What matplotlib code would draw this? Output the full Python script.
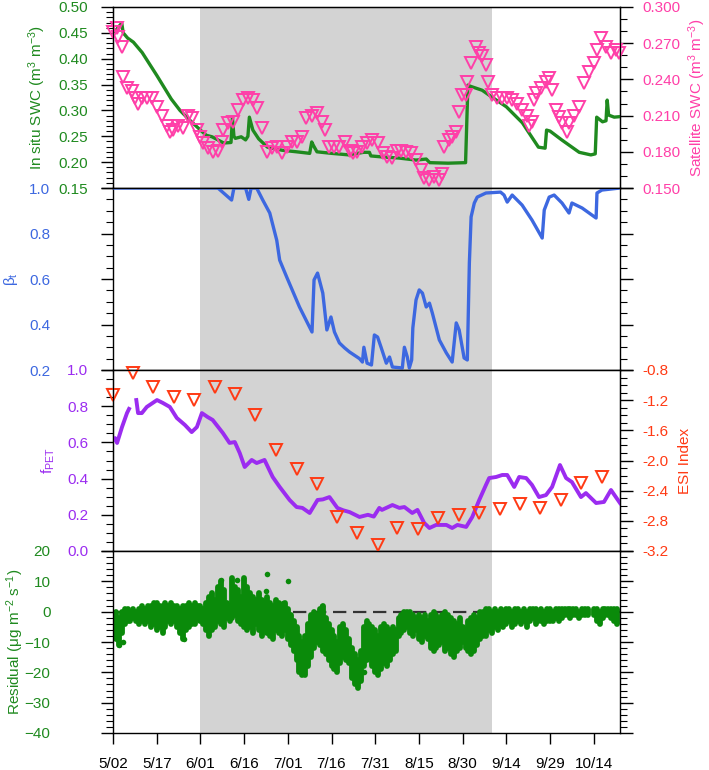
import numpy as np
import matplotlib
matplotlib.use("Agg")
import matplotlib.pyplot as plt
from matplotlib.ticker import MultipleLocator

plt.rcParams['font.family'] = ['Liberation Sans', 'DejaVu Sans']
plt.rcParams['font.size'] = 11
plt.rcParams['mathtext.fontset'] = 'custom'
plt.rcParams['mathtext.rm'] = 'Liberation Sans'

# x axis: days since 5/02
date_ticks = [0, 15, 30, 45, 60, 75, 90, 105, 120, 135, 150, 165]
date_labels = ["5/02", "5/17", "6/01", "6/16", "7/01", "7/16",
               "7/31", "8/15", "8/30", "9/14", "9/29", "10/14"]
dry_start, dry_end = 30, 130

# in situ SWC (day, m3/m3)
swc_pts = [(0, 0.452), (1, 0.455), (3, 0.469), (3.5, 0.450), (5, 0.440), (7, 0.432),
           (10, 0.412), (15, 0.368), (20, 0.322), (23, 0.300), (26, 0.283), (30, 0.262),
           (32, 0.252), (34, 0.249), (38, 0.237), (40.5, 0.238), (41, 0.285), (41.5, 0.250),
           (42, 0.246), (44, 0.249), (45.5, 0.243), (46.3, 0.250), (46.8, 0.287), (48, 0.262),
           (50, 0.245), (53, 0.229), (58, 0.223), (63, 0.220), (67.5, 0.217), (68.2, 0.239),
           (68.8, 0.232), (70, 0.220), (75, 0.217), (81, 0.214), (86, 0.219), (88, 0.219),
           (88.5, 0.212), (92.5, 0.210), (98, 0.208), (104, 0.204), (107.5, 0.206),
           (108.7, 0.199), (115, 0.198), (121, 0.199), (121.8, 0.349), (122.5, 0.347),
           (126.7, 0.339), (130, 0.326), (135, 0.307), (140.5, 0.276), (146, 0.229),
           (148.3, 0.227), (148.8, 0.262), (150, 0.260), (154, 0.243), (160, 0.219),
           (164, 0.214), (165.5, 0.216), (166, 0.287), (168, 0.278), (169.2, 0.280),
           (169.6, 0.320), (170.1, 0.291), (172, 0.287), (174, 0.288)]

# satellite SWC (day, m3/m3)
sat_pts = [(0.0, 0.279), (1.4, 0.283), (1.7, 0.275), (3.1, 0.267), (3.4, 0.242), (4.8, 0.233),
           (6.5, 0.230), (7.5, 0.225), (8.6, 0.220), (9.9, 0.225), (11.6, 0.225), (13.4, 0.225),
           (15.1, 0.217), (16.8, 0.210), (18.5, 0.201), (19.5, 0.196), (20.5, 0.198),
           (22.3, 0.201), (24.0, 0.200), (25.7, 0.210), (27.1, 0.208), (28.8, 0.198),
           (29.8, 0.192), (30.8, 0.187), (32.5, 0.183), (34.2, 0.180), (36.0, 0.181),
           (37.3, 0.188), (37.7, 0.198), (39.4, 0.204), (41.1, 0.205), (42.8, 0.215),
           (44.5, 0.223), (46.2, 0.225), (47.9, 0.223), (49.3, 0.216), (51.0, 0.200),
           (52.7, 0.180), (54.5, 0.183), (56.2, 0.184), (57.9, 0.179), (59.6, 0.184),
           (61.3, 0.188), (63.0, 0.188), (64.7, 0.192), (66.4, 0.208), (68.2, 0.210),
           (69.9, 0.212), (71.6, 0.205), (72.6, 0.198), (74.3, 0.184), (76.0, 0.184),
           (77.7, 0.184), (79.5, 0.188), (81.2, 0.181), (82.2, 0.179), (83.9, 0.180),
           (85.6, 0.184), (87.3, 0.187), (89.0, 0.190), (90.8, 0.187), (92.5, 0.179),
           (94.2, 0.176), (95.9, 0.175), (97.3, 0.181), (99.0, 0.181), (100.7, 0.180),
           (102.4, 0.179), (104.1, 0.173), (105.8, 0.165), (106.8, 0.158), (108.6, 0.157),
           (110.3, 0.159), (112.0, 0.157), (113.0, 0.162), (113.7, 0.184), (115.4, 0.190),
           (116.4, 0.192), (117.8, 0.196), (118.8, 0.213), (119.9, 0.227), (121.2, 0.227),
           (121.6, 0.238), (122.9, 0.254), (124.7, 0.267), (125.7, 0.262), (126.7, 0.259),
           (128.1, 0.252), (128.8, 0.238), (130.1, 0.227), (131.8, 0.225), (133.6, 0.225),
           (135.3, 0.225), (137.0, 0.223), (138.7, 0.220), (140.4, 0.215), (142.1, 0.210),
           (143.8, 0.205), (142.8, 0.201), (144.5, 0.223), (145.2, 0.229), (146.9, 0.233),
           (148.6, 0.238), (149.7, 0.241), (150.7, 0.231), (152.1, 0.215), (153.1, 0.209),
           (154.1, 0.204), (155.8, 0.196), (156.5, 0.204), (158.2, 0.210), (159.9, 0.217),
           (161.6, 0.237), (163.4, 0.246), (165.1, 0.254), (166.1, 0.264), (167.5, 0.274),
           (169.2, 0.267), (170.9, 0.262), (172.6, 0.264), (173.6, 0.262)]

# beta_t (day, value)
beta_pts = [(0, 1.0), (36, 1.0), (40.7, 0.947), (41.5, 1.0), (45.5, 1.0), (46.6, 0.95),
            (47.4, 1.0), (49.3, 1.0), (51.4, 0.947), (53.8, 0.89), (56.2, 0.77), (57.2, 0.683),
            (59.6, 0.609), (64, 0.477), (68.3, 0.367), (69.0, 0.596), (70.2, 0.626), (72, 0.538),
            (73.4, 0.376), (74.8, 0.433), (76, 0.367), (77.7, 0.319), (79.5, 0.297),
            (81.2, 0.279), (84.6, 0.250), (85.6, 0.235), (86.1, 0.30), (87.2, 0.23),
            (88.7, 0.222), (89.7, 0.354), (90.8, 0.345), (92, 0.30), (93.8, 0.23),
            (94.9, 0.257), (95.9, 0.213), (99.3, 0.209), (100, 0.30), (101, 0.257),
            (101.7, 0.209), (102.5, 0.244), (102.9, 0.385), (104, 0.508), (105.1, 0.552),
            (106.2, 0.538), (107.5, 0.477), (108.6, 0.494), (109.6, 0.45), (112, 0.332),
            (114.4, 0.275), (116.4, 0.235), (117.8, 0.407), (118.8, 0.376), (120.5, 0.253),
            (121.6, 0.244), (122.3, 0.67), (122.9, 0.873), (124, 0.934), (125, 0.96),
            (128, 0.978), (133, 0.982), (134.2, 0.969), (135.3, 0.938), (137, 0.969),
            (140.4, 0.925), (143.8, 0.859), (147.3, 0.78), (148, 0.903), (149.7, 0.96),
            (151.4, 0.969), (154.1, 0.934), (156.5, 0.89), (157.5, 0.934), (161, 0.912),
            (165.8, 0.868), (166.1, 0.978), (167.8, 0.991), (174, 1.0)]

# f_PET (day, value); nan marks the data gap
fpet_pts = [(0, 0.613), (0.7, 0.624), (1.4, 0.597), (3.1, 0.685), (4.8, 0.762), (5.5, 0.785),
            (6.5, np.nan), (8.0, 0.834), (8.6, 0.762), (9.9, 0.762), (11.6, 0.796),
            (15.1, 0.834), (17.1, 0.818), (19.5, 0.796), (21.9, 0.735), (24.7, 0.696),
            (27, 0.657), (28.8, 0.685), (30.5, 0.762), (32.5, 0.740), (34.2, 0.724),
            (37.7, 0.652), (40, 0.597), (41.8, 0.602), (43.5, 0.541), (45.2, 0.464),
            (47.6, 0.503), (49.3, 0.486), (52, 0.503), (54.8, 0.409), (57.2, 0.354),
            (60.6, 0.282), (63, 0.243), (65, 0.238), (67.5, 0.210), (70.2, 0.282), (72, 0.285),
            (74.3, 0.298), (77, 0.238), (79, 0.225), (81.2, 0.215), (84.6, 0.188), (87.5, 0.20),
            (89.5, 0.19), (91.4, 0.238), (92.3, 0.227), (95.9, 0.254), (98.3, 0.238),
            (100, 0.243), (102.7, 0.210), (104.5, 0.227), (106.8, 0.155), (108.6, 0.127),
            (110.9, 0.144), (114.4, 0.144), (116.4, 0.127), (118.2, 0.144), (121.2, 0.133),
            (123.3, 0.188), (125.7, 0.282), (128, 0.365), (129.1, 0.403), (131.5, 0.409),
            (133.6, 0.420), (135.3, 0.420), (137.7, 0.354), (139.4, 0.409), (141.8, 0.403),
            (143.8, 0.365), (146.2, 0.298), (148.6, 0.309), (150.7, 0.354), (153.4, 0.475),
            (155.5, 0.403), (157.5, 0.381), (160.6, 0.298), (162.3, 0.320), (165.8, 0.265),
            (168.5, 0.271), (170.9, 0.337), (174, 0.265)]

# ESI index (day, value)
esi_pts = [(0, -1.13), (6.8, -0.84), (13.8, -1.03), (20.9, -1.16), (27.8, -1.20),
           (34.9, -1.03), (41.8, -1.12), (48.9, -1.40), (55.8, -1.86), (63.0, -2.11),
           (69.9, -2.31), (77.0, -2.75), (83.9, -2.96), (90.8, -3.12), (97.6, -2.90),
           (104.8, -2.91), (111.6, -2.76), (118.8, -2.72), (125.7, -2.70), (132.9, -2.64),
           (139.7, -2.58), (146.6, -2.63), (153.8, -2.52), (160.6, -2.30), (167.8, -2.22)]

# residual: daily upper / lower envelope of the hourly points (ug m-2 s-1)
res_hi = [-1, 0, -2, 0, 1, 1, 0, 1, 0, 1,
          2, 1, 2, 2, 3, 3, 2, 2, 3, 2,
          3, 2, 2, 1, 2, 2, 3, 2, 3, 2,
          2, 1, 3, 5, 6, 4, 8, 10, 7, 3,
          2, 11, 8, 7, 5, 11, 8, 6, 5, 4,
          6, 4, 3, 5, 3, 2, 4, 3, 2, 3,
          1, -1, -3, -5, -8, -10, -8, -4, -1, 0,
          -1, 1, 2, -2, -4, -6, -8, -10, -5, -4,
          -6, -9, -12, -14, -16, -13, -5, -3, -4, -5,
          -6, -8, -5, -4, -5, -6, -5, -6, -2, -1,
          0, 0, 0, -1, -2, -1, -2, -1, -3, -1,
          0, -1, -2, -1, 0, -1, -2, -3, -4, -2,
          -5, -6, -3, -2, -1, -2, 0, 0, 1, 1,
          0, 1, 0, 1, 0, 1, 1, 0, 1, 1,
          0, 1, 0, 1, 1, 1, 0, 1, 0, 1,
          1, 0, 1, 1, 1, 1, 1, 1, 1, 1,
          0, 1, 1, 1, np.nan, 1, 1, 0, 1, 1,
          1, 1, 1, 1]
res_lo = [-6, -9, -11, -7, -4, -3, -3, -2, -3, -4,
          -3, -4, -3, -5, -4, -6, -5, -7, -5, -3,
          -4, -3, -5, -7, -9, -6, -5, -4, -4, -2,
          -3, -4, -6, -8, -6, -5, -3, -4, -5, -2,
          -3, -2, -1, -3, -4, -5, -6, -5, -7, -4,
          -6, -8, -5, -7, -8, -9, -6, -7, -8, -6,
          -9, -11, -13, -16, -20, -21, -21, -18, -15, -12,
          -10, -11, -13, -14, -16, -18, -19, -20, -17, -15,
          -16, -17, -22, -24, -25, -23, -18, -16, -15, -18,
          -20, -21, -19, -17, -18, -16, -14, -13, -8, -7,
          -6, -5, -7, -8, -6, -9, -10, -8, -9, -12,
          -13, -12, -11, -10, -13, -12, -14, -15, -13, -12,
          -10, -12, -13, -14, -13, -11, -9, -8, -8, -6,
          -7, -5, -6, -4, -5, -4, -3, -5, -4, -3,
          -4, -3, -5, -3, -2, -4, -3, -3, -4, -3,
          -3, -3, -2, -3, -2, -1, -1, -2, -1, -1,
          -2, -1, -1, -1, np.nan, -1, -3, -4, -2, -1,
          -1, -2, -3, -4]
res_out = [(2, -11), (3.5, -10), (24.5, -9), (37, 10.3), (42.4, 10.6), (52.7, 12.5),
           (52.5, 6.7), (60, 10), (58.5, 3), (71.8, 1.8), (66, -18), (86, -20)]

GREEN = "#1f8a1f"
DOT = "#0a8a0a"
PINK = "#ff3fa8"
BLUE = "#3d68e0"
PURPLE = "#9b2cf0"
ORANGE = "#ff3a14"
GRAY = "#d3d3d3"

fig = plt.figure(figsize=(7.09, 7.70), dpi=100)
L, W = 113 / 709, 507 / 709


def pos(top, bot):
    return [L, 1 - bot / 770, W, (bot - top) / 770]


ax1 = fig.add_axes(pos(7, 188))
ax2 = fig.add_axes(pos(188, 370))
ax3 = fig.add_axes(pos(370, 551))
ax4 = fig.add_axes(pos(551, 733))


def style(ax, color, pad, mirror=False):
    ax.set_xlim(0, 174)
    ax.axvspan(dry_start, dry_end, color=GRAY, lw=0, zorder=0)
    ax.tick_params(axis='y', which='major', direction='out', length=9, width=1,
                   pad=pad, labelcolor=color, labelsize=11, right=mirror)
    ax.tick_params(axis='y', which='minor', direction='out', length=5, width=0.8,
                   right=mirror)
    ax.tick_params(axis='x', which='both', bottom=False, labelbottom=False)
    for s in ax.spines.values():
        s.set_linewidth(1.0)


def style_right(ax, color):
    ax.tick_params(axis='y', which='major', direction='out', length=9, width=1,
                   pad=7, labelcolor=color, labelsize=11)
    ax.tick_params(axis='y', which='minor', direction='out', length=5, width=0.8)


# panel 1: soil water content
style(ax1, GREEN, 9)
x, y = zip(*swc_pts)
ax1.plot(x, y, color=GREEN, lw=2.4, zorder=3)
ax1.set_ylim(0.15, 0.50)
ax1.yaxis.set_major_locator(MultipleLocator(0.05))
ax1.yaxis.set_minor_locator(MultipleLocator(0.01))
ax1.yaxis.set_major_formatter(lambda v, p: f"{v:.2f}")
ax1.set_ylabel(r"In situ SWC (m$\mathregular{^3}$ m$\mathregular{^{-3}}$)", color=GREEN)
ax1.yaxis.set_label_coords(-0.128, 0.5)

ax1r = ax1.twinx()
x, y = zip(*sat_pts)
ax1r.plot(x, y, ls='none', marker='v', ms=9, mfc='none', mec=PINK, mew=1.4, clip_on=False)
ax1r.set_ylim(0.15, 0.30)
ax1r.yaxis.set_major_locator(MultipleLocator(0.03))
ax1r.yaxis.set_minor_locator(MultipleLocator(0.01))
ax1r.yaxis.set_major_formatter(lambda v, p: f"{v:.3f}")
style_right(ax1r, PINK)
ax1r.set_ylabel(r"Satellite SWC (m$\mathregular{^3}$ m$\mathregular{^{-3}}$)",
                color=PINK, rotation=90, va='top')
ax1r.yaxis.set_label_coords(1.13, 0.5)

# panel 2: beta_t
style(ax2, BLUE, 36, mirror=True)
x, y = zip(*beta_pts)
ax2.plot(x, y, color=BLUE, lw=2.4, zorder=3)
ax2.set_ylim(0.2, 1.0)
ax2.yaxis.set_major_locator(MultipleLocator(0.2))
ax2.yaxis.set_minor_locator(MultipleLocator(0.05))
ax2.yaxis.set_major_formatter(lambda v, p: f"{v:.1f}")
ax2.set_ylabel(r"β$\mathregular{_t}$", color=BLUE)
ax2.yaxis.set_label_coords(-0.183, 0.5)

# panel 3: f_PET and ESI
style(ax3, PURPLE, 9)
x, y = zip(*fpet_pts)
ax3.plot(x, y, color=PURPLE, lw=2.8, zorder=3)
ax3.set_ylim(0.0, 1.0)
ax3.yaxis.set_major_locator(MultipleLocator(0.2))
ax3.yaxis.set_minor_locator(MultipleLocator(0.05))
ax3.yaxis.set_major_formatter(lambda v, p: f"{v:.1f}")
ax3.set_ylabel(r"f$\mathregular{_{PET}}$", color=PURPLE)
ax3.yaxis.set_label_coords(-0.110, 0.5)

ax3r = ax3.twinx()
x, y = zip(*esi_pts)
ax3r.plot(x, y, ls='none', marker='v', ms=8, mfc='none', mec=ORANGE, mew=1.4, clip_on=False)
ax3r.set_ylim(-3.2, -0.8)
ax3r.yaxis.set_major_locator(MultipleLocator(0.4))
ax3r.yaxis.set_minor_locator(MultipleLocator(0.1))
ax3r.yaxis.set_major_formatter(lambda v, p: f"{v:.1f}")
style_right(ax3r, ORANGE)
ax3r.set_ylabel("ESI Index", color=ORANGE, rotation=90, va='top')
ax3r.yaxis.set_label_coords(1.114, 0.5)

# panel 4: residual
style(ax4, GREEN, 36, mirror=True)
days = np.arange(len(res_hi))
ax4.axhline(0, color='#333333', lw=1.6, dashes=(6, 3), zorder=1)
ax4.vlines(days, res_lo, res_hi, colors=DOT, lw=4.2, capstyle='round', zorder=2)
ox, oy = zip(*res_out)
ax4.scatter(ox, oy, s=16, color=DOT, lw=0, zorder=2)
ax4.set_ylim(-40, 20)
ax4.yaxis.set_major_locator(MultipleLocator(10))
ax4.yaxis.set_minor_locator(MultipleLocator(2))
ax4.set_ylabel(r"Residual (μg m$\mathregular{^{-2}}$ s$\mathregular{^{-1}}$)", color=GREEN)
ax4.yaxis.set_label_coords(-0.172, 0.5)

ax4.tick_params(axis='x', which='major', bottom=True, labelbottom=True,
                direction='out', length=8, width=1, pad=9, labelsize=11)
ax4.set_xticks(date_ticks)
ax4.set_xticklabels(date_labels)

fig.savefig("out.png", dpi=100)
